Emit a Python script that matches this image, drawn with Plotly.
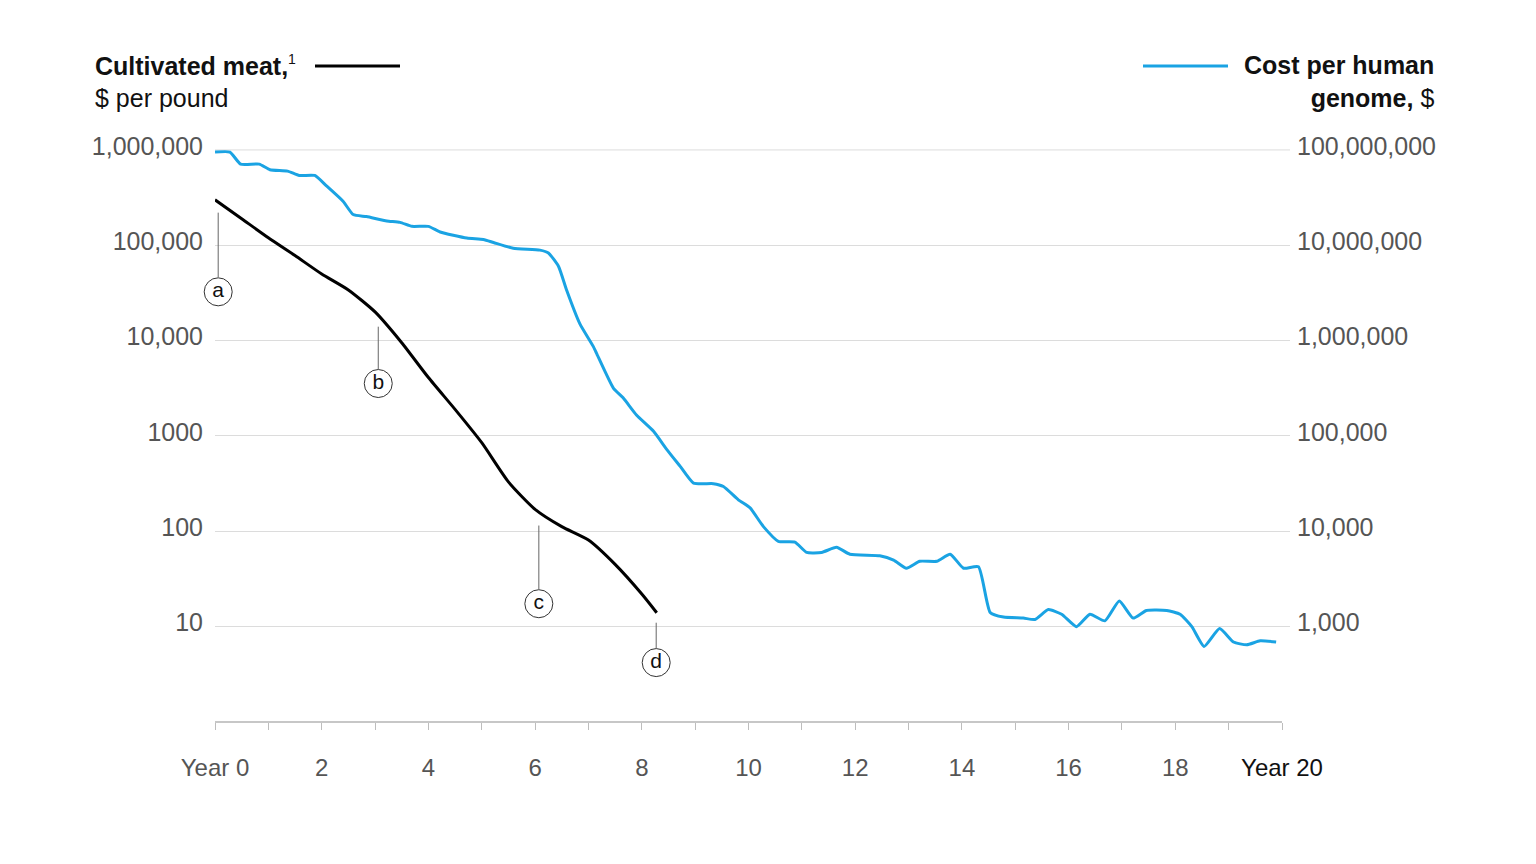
import plotly.graph_objects as go

# colours
meat_col, genome_col, grid_col, label_col = '#000000', '#1aa3e3', '#dcdcdc', '#555555'

# cultivated meat, $ per pound (left axis)
meat_year = [0, 0.5, 1.0, 1.5, 2.0, 2.5, 3.0, 3.5, 4.0, 4.5, 5.0, 5.5, 6.0, 6.5, 7.0, 7.5, 8.0, 8.28]
meat_cost = [300000, 190000, 120000, 78000, 50000, 34000, 20000, 9500, 4100, 1900, 850, 330,
             170, 112, 81, 45, 22, 14]

# cost per human genome, $ (right axis)
genome_year = [0.0, 0.28, 0.48, 0.83, 1.03, 1.36, 1.58, 1.87, 2.09, 2.40, 2.59, 2.84, 3.22, 3.47,
               3.69, 4.0, 4.22, 4.72, 5.03, 5.22, 5.59, 6.09, 6.25, 6.44, 6.59, 6.84, 7.09, 7.15,
               7.47, 7.65, 7.90, 8.22, 8.47, 8.72, 8.97, 9.34, 9.53, 9.81, 10.03, 10.28, 10.56,
               10.87, 11.09, 11.37, 11.65, 11.90, 12.46, 12.72, 12.96, 13.21, 13.53, 13.78, 14.03,
               14.31, 14.53, 14.78, 15.15, 15.37, 15.62, 15.87, 16.15, 16.40, 16.68, 16.95, 17.21,
               17.46, 17.84, 18.09, 18.31, 18.54, 18.83, 19.09, 19.34, 19.59, 19.89]
genome_cost = [95e6, 95e6, 71e6, 71e6, 62e6, 60e6, 54e6, 54e6, 42e6, 29e6, 21e6, 20e6, 18e6, 17.4e6,
               15.8e6, 15.8e6, 13.8e6, 11.9e6, 11.5e6, 10.7e6, 9.3e6, 8.9e6, 8.3e6, 6.0e6, 3.4e6,
               1.5e6, 870000, 740000, 316000, 251000, 166000, 112000, 72000, 48000, 32000, 31600,
               29500, 21400, 17600, 11200, 7850, 7700, 6000, 6000, 6800, 5750, 5550, 5000, 4100,
               4850, 4850, 5750, 4100, 4250, 1410, 1260, 1230, 1190, 1510, 1350, 1000, 1350, 1150,
               1860, 1230, 1480, 1480, 1350, 1000, 620, 955, 690, 645, 710, 690]

# axis ticks
x_ticks = list(range(0, 21, 2))
x_minor = list(range(1, 21, 2))
x_text = ['Year 0' if v == 0 else ("<span style='color:#111'>Year 20</span>" if v == 20
          else str(v)) for v in x_ticks]
left_vals = [10, 100, 1000, 10000, 100000, 1000000]
left_text = ['10', '100', '1000', '10,000', '100,000', '1,000,000']
right_vals = [1000, 10000, 100000, 1000000, 10000000, 100000000]
right_text = ['1,000', '10,000', '100,000', '1,000,000', '10,000,000', '100,000,000']

# callouts: letter, year, top of leader, bottom of leader, circle (left axis, $ per pound)
callout_letter = ['a', 'b', 'c', 'd']
callout_year = [0.06, 3.06, 6.07, 8.27]
callout_top = [220000, 14000, 115, 11]
callout_bottom = [46000, 5000, 24.5, 5.9]
callout_circle = [32500, 3550, 17.4, 4.2]

FONT = 'Liberation Sans'
OFF = 8  # page body margin
W, H = 1536 - 2 * OFF, 864 - 2 * OFF
# plot area in page pixels
L, R, T, B = 215, 1290, 149, 722


def px(x):
    return (x - L) / (R - L)


def py(y):
    return (B - y) / (B - T)


fig = go.Figure()
fig.add_trace(go.Scatter(x=genome_year, y=genome_cost, yaxis='y2', mode='lines',
                         line=dict(color=genome_col, width=3, shape='spline', smoothing=0.5),
                         hoverinfo='skip'))
fig.add_trace(go.Scatter(x=meat_year, y=meat_cost, mode='lines',
                         line=dict(color=meat_col, width=3, shape='spline', smoothing=0.6),
                         hoverinfo='skip'))

for yr, top, bot in zip(callout_year, callout_top, callout_bottom):
    fig.add_shape(type='line', xref='x', yref='y', x0=yr, x1=yr, y0=top, y1=bot,
                  line=dict(color='#666666', width=1))

fig.add_trace(go.Scatter(x=callout_year, y=callout_circle, mode='markers+text',
                         text=callout_letter, textposition='middle center',
                         textfont=dict(family=FONT, size=21, color='#111'),
                         marker=dict(symbol='circle', size=28, color='white',
                                     line=dict(color='#333333', width=1)),
                         cliponaxis=False, hoverinfo='skip'))

# top gridline (plotly drops the one sitting on the plot edge)
fig.add_shape(type='line', xref='paper', yref='y', x0=0, x1=1, y0=left_vals[-1], y1=left_vals[-1],
              line=dict(color=grid_col, width=1), layer='below')

# x axis baseline, year 0 to year 20
fig.add_shape(type='line', xref='x', yref='paper', x0=0, x1=20, y0=0, y1=0,
              line=dict(color='#b5b5b5', width=1.5))

# header legend lines
fig.add_shape(type='line', xref='paper', yref='paper', x0=px(315), x1=px(400), y0=py(66), y1=py(66),
              line=dict(color=meat_col, width=3))
fig.add_shape(type='line', xref='paper', yref='paper', x0=px(1143), x1=px(1228), y0=py(66), y1=py(66),
              line=dict(color=genome_col, width=3))

fig.add_annotation(xref='paper', yref='paper', x=px(93), y=py(81), xanchor='left', yanchor='middle',
                   align='left', showarrow=False,
                   text="<b>Cultivated meat,</b><sup><span style='font-size:14px'>1</span></sup>"
                        "<br>$ per pound",
                   font=dict(family=FONT, size=25, color='#111'))
fig.add_annotation(xref='paper', yref='paper', x=px(1436), y=py(81), xanchor='right', yanchor='middle',
                   align='right', showarrow=False,
                   text='<b>Cost per human</b><br><b>genome,</b> $',
                   font=dict(family=FONT, size=25, color='#111'))

fig.update_layout(
    width=W, height=H,
    margin=dict(l=L - OFF, r=W - (R - OFF), t=T - OFF, b=H - (B - OFF), pad=0),
    plot_bgcolor='white', paper_bgcolor='white',
    showlegend=False,
    font=dict(family=FONT, color=label_col),
    xaxis=dict(range=[0, 20.15], tickvals=x_ticks, ticktext=x_text, ticks='outside', ticklen=7,
               tickcolor='#bdbdbd', showgrid=False, zeroline=False, showline=False,
               minor=dict(tickvals=x_minor, ticks='outside', ticklen=7, tickcolor='#bdbdbd',
                          showgrid=False),
               tickfont=dict(family=FONT, size=24, color=label_col), ticklabelstandoff=17),
    yaxis=dict(type='log', range=[0, 6.01], tickvals=left_vals, ticktext=left_text,
               showgrid=True, gridcolor=grid_col, gridwidth=1, zeroline=False, showline=False,
               ticks='', ticklabelstandoff=11, ticklabelshift=-4,
               tickfont=dict(family=FONT, size=25, color=label_col)),
    yaxis2=dict(type='log', range=[2, 8.01], overlaying='y', side='right', anchor='x',
                tickvals=right_vals, ticktext=right_text, showgrid=False, zeroline=False,
                showline=False, ticks='', ticklabelstandoff=6, ticklabelshift=-4,
                tickfont=dict(family=FONT, size=25, color=label_col)),
)

fig.write_html("out.html")
